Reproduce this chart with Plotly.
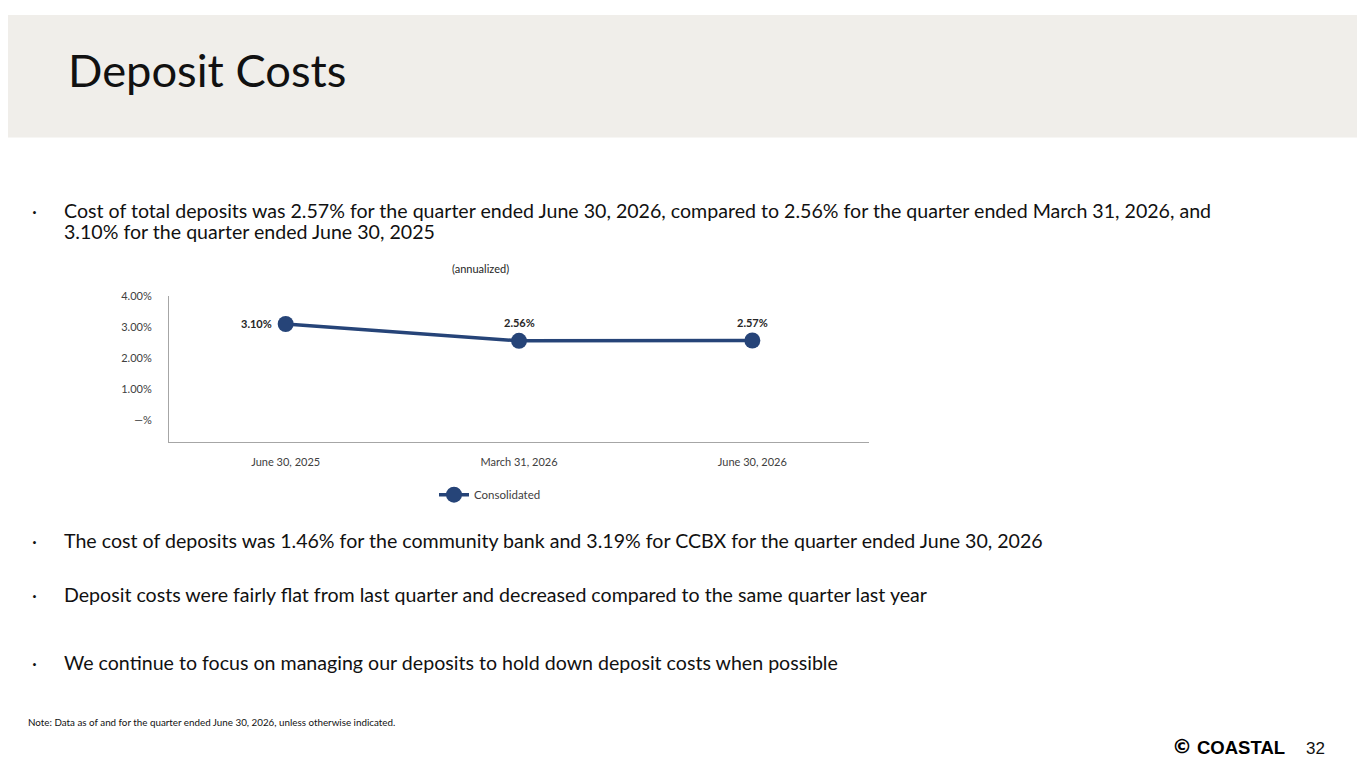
import plotly.graph_objects as go

# Chart data (annualized cost of total deposits, %)
quarters = ["June 30, 2025", "March 31, 2026", "June 30, 2026"]
consolidated = [3.10, 2.56, 2.57]
label_text = ["3.10%", "2.56%", "2.57%"]
ytick_vals = [0, 1, 2, 3, 4]
ytick_text = ["—%", "1.00%", "2.00%", "3.00%", "4.00%"]

# the page shows the figure with a margin and squeezes it slightly in height,
# so page pixels are mapped back onto the figure
OFF_X = 8
W, H = 1365 - 2 * OFF_X, 752
LINE_BLUE = "#264478"
BODY_FONT = "Lato"


def px(x):
    return (x - OFF_X) / W


def py(y):
    y_fig = 1.0126 * y - 8.08 - 8
    return 1 - y_fig / H


fig = go.Figure()

fig.add_trace(go.Scatter(
    x=quarters, y=consolidated, name="Consolidated",
    mode="lines+markers",
    line=dict(color=LINE_BLUE, width=3.5),
    marker=dict(color=LINE_BLUE, size=16),
    hoverinfo="skip",
))

# data labels: first one sits left of the point, the others above
for i, (q, v, t) in enumerate(zip(quarters, consolidated, label_text)):
    if i == 0:
        pos = dict(xanchor="right", xshift=-12, yshift=0)
    else:
        pos = dict(xanchor="center", xshift=0, yshift=18)
    fig.add_annotation(x=q, y=v, xref="x", yref="y", text=f"<b>{t}</b>",
                       showarrow=False, yanchor="middle", **pos,
                       font=dict(family="Lato", size=11, color="#262626"))

fig.update_xaxes(
    domain=[px(169), px(869)], range=[-0.5, 2.5],
    showline=True, linecolor="#A6A6A6", linewidth=1,
    showgrid=False, zeroline=False, ticks="",
    ticklabelstandoff=9,
    tickfont=dict(family="Lato", size=11, color="#404040"),
    fixedrange=True,
)
fig.update_yaxes(
    domain=[py(442), py(296)], range=[-0.71, 4.0],
    showline=True, linecolor="#A6A6A6", linewidth=1,
    showgrid=False, zeroline=False, ticks="",
    tickvals=ytick_vals, ticktext=ytick_text,
    ticklabelstandoff=14,
    tickfont=dict(family="Lato", size=11, color="#404040"),
    fixedrange=True,
)

# header band
fig.add_shape(type="rect", xref="paper", yref="paper", x0=0, x1=1, y0=py(138), y1=1,
              fillcolor="#F0EEEA", line_width=0, layer="below")

texts = [
    # (x px, y px, text, size)
    (66, 70, "Deposit Costs", 45.3),
    (62, 211, "Cost of total deposits was 2.57% for the quarter ended June 30, 2026, compared to 2.56% for the quarter ended March 31, 2026, and", 19.6),
    (62, 232, "3.10% for the quarter ended June 30, 2025", 19.6),
    (62, 540, "The cost of deposits was 1.46% for the community bank and 3.19% for CCBX for the quarter ended June 30, 2026", 19.6),
    (62, 594, "Deposit costs were fairly flat from last quarter and decreased compared to the same quarter last year", 19.6),
    (62, 661, "We continue to focus on managing our deposits to hold down deposit costs when possible", 19.6),
    (26, 721, "Note: Data as of and for the quarter ended June 30, 2026, unless otherwise indicated.", 9.8),
]
for x, y, t, s in texts:
    fig.add_annotation(x=px(x), y=py(y), xref="paper", yref="paper", text=t,
                       showarrow=False, xanchor="left", yanchor="middle",
                       font=dict(family=BODY_FONT, size=s, color="#111111"))

for y in [211, 540, 594, 661]:
    fig.add_annotation(x=px(34), y=py(y), xref="paper", yref="paper", text="·",
                       showarrow=False, xanchor="center", yanchor="middle",
                       font=dict(family=BODY_FONT, size=19, color="#111111"))

fig.add_annotation(x=px(480), y=py(269), xref="paper", yref="paper", text="(annualized)",
                   showarrow=False, font=dict(family="Lato", size=11, color="#262626"))

# footer logo and page number, sat on the bottom edge of the figure
fig.add_annotation(x=px(1182), y=0, xref="paper", yref="paper", text="<b>©</b>",
                   showarrow=False, xanchor="center", yanchor="bottom",
                   font=dict(family="DejaVu Sans", size=20, color="#000000"))
fig.add_annotation(x=px(1195), y=0, xref="paper", yref="paper", text="<b>COASTAL</b>",
                   showarrow=False, xanchor="left", yanchor="bottom",
                   font=dict(family="Liberation Sans", size=18.5, color="#000000"))
fig.add_annotation(x=px(1315), y=0, xref="paper", yref="paper", text="32",
                   showarrow=False, xanchor="center", yanchor="bottom",
                   font=dict(family="Liberation Sans", size=17, color="#111111"))

fig.update_layout(
    width=W, height=H,
    margin=dict(l=0, r=0, t=0, b=0),
    paper_bgcolor="white", plot_bgcolor="white",
    showlegend=True,
    legend=dict(orientation="h", x=px(490), y=py(494), xanchor="center", yanchor="middle",
                font=dict(family="Lato", size=11.5, color="#404040"), bgcolor="rgba(0,0,0,0)"),
)

fig.write_html("out.html")
